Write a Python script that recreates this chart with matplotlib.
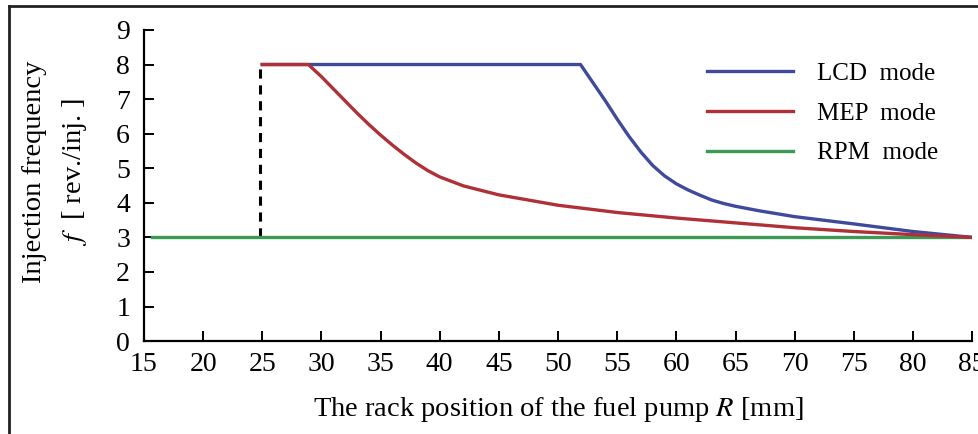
import matplotlib
matplotlib.use("Agg")
import matplotlib.pyplot as plt
from matplotlib.lines import Line2D
import numpy as np

plt.rcParams['font.family'] = ['Liberation Serif', 'DejaVu Serif']
plt.rcParams['mathtext.fontset'] = 'stix'

# LCD mode (blue)
lcd_r = [25.0, 51.9, 53.0, 54.0, 55.0, 56.0, 57.0, 58.0, 59.0, 60.0, 61.0, 62.0, 63.0,
         64.0, 65.0, 67.0, 70.0, 75.0, 80.0, 85.0]
lcd_f = [8.0, 8.0, 7.45, 6.95, 6.42, 5.92, 5.47, 5.08, 4.78, 4.55, 4.37, 4.22, 4.08,
         3.98, 3.90, 3.77, 3.60, 3.39, 3.17, 3.0]

# MEP mode (red)
mep_r = [25.0, 28.9, 30.0, 31.0, 32.0, 33.0, 34.0, 35.0, 36.0, 37.0, 38.0, 39.0, 40.0,
         42.0, 45.0, 50.0, 55.0, 60.0, 65.0, 70.0, 75.0, 80.0, 85.0]
mep_f = [8.0, 8.0, 7.65, 7.3, 6.95, 6.6, 6.27, 5.96, 5.67, 5.4, 5.15, 4.93, 4.75,
         4.49, 4.23, 3.93, 3.72, 3.56, 3.42, 3.28, 3.17, 3.08, 3.0]

# RPM mode (green)
rpm_r = [15.7, 85.0]
rpm_f = [3.0, 3.0]

# boundary (dashed)
bnd_r = [24.8, 24.8]
bnd_f = [3.0, 8.0]

c_lcd = "#3f4a9c"
c_mep = "#b03038"
c_rpm = "#3d9a55"

fig = plt.figure(figsize=(9.79, 4.34), dpi=100)
ax = fig.add_axes([0.147, 0.214, 0.846, 0.717])

ax.plot(bnd_r, bnd_f, color="black", lw=2.2, ls=(0, (3, 2.2)), zorder=2)
ax.plot(rpm_r, rpm_f, color=c_rpm, lw=2.4, label="RPM  mode", zorder=3)
ax.plot(lcd_r, lcd_f, color=c_lcd, lw=2.4, label="LCD  mode", zorder=3)
ax.plot(mep_r, mep_f, color=c_mep, lw=2.4, label="MEP  mode", zorder=4)

ax.set_xlim(15, 85)
ax.set_ylim(0, 9)
ax.set_xticks(np.arange(15, 86, 5))
ax.set_yticks(np.arange(0, 10, 1))
ax.spines['top'].set_visible(False)
ax.spines['right'].set_visible(False)
ax.spines['left'].set_linewidth(1.6)
ax.spines['bottom'].set_linewidth(1.6)
ax.tick_params(direction="in", length=7, width=1.4, labelsize=20)
ax.tick_params(axis="x", pad=8)
ax.tick_params(axis="y", pad=10)

ax.set_xlabel(r"The rack position of the fuel pump $R$ [mm]", fontsize=20.5, labelpad=13)
fig.text(0.035, 0.604, "Injection frequency", rotation=90, fontsize=20.5,
         ha="center", va="center")
fig.text(0.076, 0.604, r"$f$  [ rev./inj. ]", rotation=90, fontsize=20.5,
         ha="center", va="center")

h, l = ax.get_legend_handles_labels()
order = [1, 2, 0]
ax.legend([h[i] for i in order], [l[i] for i in order], frameon=False,
          fontsize=18, loc="upper left", bbox_to_anchor=(0.653, 0.968),
          handlelength=3.45, handletextpad=0.95, labelspacing=0.69)

# outer frame (left and top only visible)
fig.add_artist(Line2D([0.009, 0.009], [0, 0.986], transform=fig.transFigure, color="#222222", lw=2))
fig.add_artist(Line2D([0.009, 1.0], [0.986, 0.986], transform=fig.transFigure, color="#222222", lw=2))

fig.savefig("out.png", dpi=100)
